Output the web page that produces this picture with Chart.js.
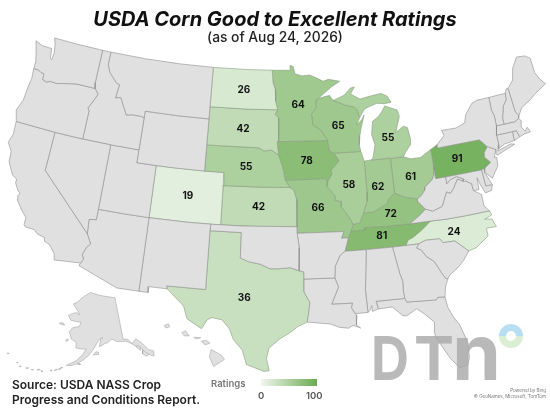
<!DOCTYPE html>
<html>
<head>
<meta charset="utf-8">
<script src="https://cdn.jsdelivr.net/npm/chart.js@4"></script>
<style>
  html, body { margin: 0; padding: 0; background: #fff; }
  #wrap { position: relative; width: 550px; height: 412px; overflow: hidden; font-family: Inter, sans-serif; }
  #map { position: absolute; left: 0; top: 0; }
  .t { position: absolute; white-space: nowrap; }
  #title { left: 0; width: 550px; top: 7px; text-align: center; font: italic 700 20px Inter, sans-serif; color: #111; }
  #subtitle { left: 0; width: 550px; top: 29px; text-align: center; font: 500 13.8px Inter, sans-serif; color: #222; }
  #source { left: 12px; top: 378px; font: 600 12px/14.5px Inter, sans-serif; color: #222; }
  #rtitle { left: 211px; top: 378px; font: 600 9.5px Inter, sans-serif; color: #777; }
  #bar { position: absolute; left: 261px; top: 379px; width: 56px; height: 7px; background: linear-gradient(to right, #f2f7ef, #6aaa50); }
  #r0 { left: 258px; top: 390px; font: 600 9.5px Inter, sans-serif; color: #555; }
  #r100 { left: 306px; top: 390px; font: 600 9.5px Inter, sans-serif; color: #555; }
  #logo { position: absolute; left: 0; top: 0; }
  #logo text { font-family: Inter, sans-serif; font-weight: 700; fill: rgba(170,170,170,.82); }
  #ring { position: absolute; left: 499px; top: 324px; width: 24px; height: 24px; border-radius: 50%; background: linear-gradient(#b8def3 50%, #d9eed2 50%); }
  #ring i { position: absolute; left: 7px; top: 7px; width: 10px; height: 10px; border-radius: 50%; background: #fff; }
  #bing { right: 4px; top: 388px; text-align: right; font: 400 4.5px/6px Inter, sans-serif; color: #777; }
</style>
</head>
<body>
<div id="wrap">
  <canvas id="map" width="550" height="412"></canvas>
  <div class="t" id="title">USDA Corn Good to Excellent Ratings</div>
  <div class="t" id="subtitle">(as of Aug 24, 2026)</div>
  <div class="t" id="source">Source: USDA NASS Crop<br>Progress and Conditions Report.</div>
  <div class="t" id="rtitle">Ratings</div>
  <div id="bar"></div>
  <div class="t" id="r0">0</div>
  <div class="t" id="r100">100</div>
  <svg id="logo" width="550" height="412">
    <text x="371" y="380" font-size="60" textLength="38" lengthAdjust="spacingAndGlyphs">D</text>
    <text x="414" y="380" font-size="60" textLength="40" lengthAdjust="spacingAndGlyphs">T</text>
    <text x="452" y="380" font-size="77" textLength="49" lengthAdjust="spacingAndGlyphs">n</text>
  </svg>
  <div id="ring"><i></i></div>
  <div class="t" id="bing">Powered by Bing<br>© GeoNames, Microsoft, TomTom</div>
</div>
<script>
// ratings
const ratedStates = ['ND', 'SD', 'NE', 'CO', 'KS', 'TX', 'MN', 'WI', 'MI', 'IA', 'IL', 'IN', 'OH', 'PA', 'MO', 'KY', 'TN', 'NC'];
const ratings = [26, 42, 55, 19, 42, 36, 64, 65, 55, 78, 58, 62, 61, 91, 66, 72, 81, 24];
const labelLon = [-100.4, -100.3, -99.8, -105.5, -98.4, -99.5, -94.3, -90, -84.8, -93.5, -89.3, -86.4, -83, -78, -92.5, -85.4, -86.5, -79.6];
const labelLat = [47.4, 44.4, 41.5, 39, 38.5, 31.5, 46.3, 44.6, 43.3, 42, 40, 39.7, 40.1, 40.9, 38.4, 37.5, 35.9, 35.5];

// state outlines, [lon, lat]
const WA = [[-124.73,48.38],[-123.9,48.16],[-123.1,48.15],[-122.75,48.15],[-122.6,47.4],[-122.4,47.3],[-122.35,47.9],[-122.5,48.5],[-122.76,49],[-120,49],[-117.03,49],[-117.04,46.42],[-116.92,45.99],[-118.98,46],[-119.6,45.92],[-121.2,45.65],[-121.9,45.68],[-122.3,45.55],[-122.75,45.65],[-122.8,46.1],[-123.2,46.15],[-123.5,46.27],[-124.05,46.27],[-124.07,46.7],[-124.1,46.9],[-124.4,47.7]];
const OR = [[-124.05,46.27],[-123.5,46.27],[-123.2,46.15],[-122.8,46.1],[-122.75,45.65],[-122.3,45.55],[-121.9,45.68],[-121.2,45.65],[-119.6,45.92],[-118.98,46],[-116.92,45.99],[-116.46,45.6],[-116.85,44.95],[-117.22,44.4],[-117.03,44.2],[-117.03,42],[-120,42],[-124.2,42],[-124.4,42.5],[-124.55,42.84],[-124.15,43.7],[-124.07,44.7],[-123.95,45.5]];
const CA = [[-124.2,42],[-120,42],[-120,39],[-114.63,35],[-114.14,34.3],[-114.45,34],[-114.72,33.4],[-114.52,33.03],[-114.72,32.72],[-117.12,32.53],[-117.28,33],[-117.9,33.6],[-118.4,33.75],[-118.5,34.03],[-119.2,34.15],[-119.6,34.42],[-120.47,34.45],[-120.65,34.6],[-120.65,35.15],[-121.3,35.7],[-121.9,36.3],[-121.95,36.6],[-121.8,36.85],[-122.05,36.95],[-122.5,37.5],[-122.5,37.8],[-123,38],[-123.7,38.9],[-123.8,39.7],[-124.35,40.3],[-124.1,41]];
const NV = [[-120,42],[-117.03,42],[-114.04,42],[-114.04,37],[-114.05,36.2],[-114.74,36.1],[-114.63,35],[-120,39]];
const ID = [[-117.03,49],[-116.05,49],[-116.05,48],[-115.7,47.45],[-114.75,46.75],[-114.35,46.65],[-114.5,45.6],[-113.95,45.7],[-113.45,45.05],[-113,44.45],[-112.3,44.55],[-111.5,44.55],[-111.05,44.48],[-111.05,42],[-114.04,42],[-117.03,42],[-117.03,44.2],[-117.22,44.4],[-116.85,44.95],[-116.46,45.6],[-116.92,45.99],[-117.04,46.42]];
const MT = [[-116.05,49],[-112,49],[-108,49],[-104.05,49],[-104.05,45],[-107.5,45],[-111.05,45],[-111.05,44.48],[-111.5,44.55],[-112.3,44.55],[-113,44.45],[-113.45,45.05],[-113.95,45.7],[-114.5,45.6],[-114.35,46.65],[-114.75,46.75],[-115.7,47.45],[-116.05,48]];
const WY = [[-111.05,45],[-107.5,45],[-104.05,45],[-104.05,41],[-107.5,41],[-111.05,41]];
const UT = [[-114.04,42],[-111.05,42],[-111.05,41],[-109.05,41],[-109.05,37],[-111.5,37],[-114.04,37]];
const CO = [[-109.05,41],[-104.05,41],[-102.05,41],[-102.05,37],[-105.5,37],[-109.05,37]];
const AZ = [[-114.04,37],[-111.5,37],[-109.05,37],[-109.05,31.33],[-111.07,31.33],[-114.82,32.5],[-114.72,32.72],[-114.52,33.03],[-114.72,33.4],[-114.45,34],[-114.14,34.3],[-114.63,35],[-114.74,36.1],[-114.05,36.2]];
const NM = [[-109.05,37],[-105.5,37],[-103,37],[-103.04,36.5],[-103.04,32],[-106.62,32],[-106.53,31.78],[-108.21,31.78],[-108.21,31.33],[-109.05,31.33]];
const TX = [[-103.04,36.5],[-100,36.5],[-100,34.56],[-99.2,34.3],[-98.1,34.13],[-97.2,33.8],[-96.5,33.8],[-95.3,33.88],[-94.48,33.64],[-94.04,33.55],[-94.04,33],[-94.04,31.99],[-93.55,31.2],[-93.7,30.3],[-93.84,29.7],[-94.7,29.35],[-95.2,29],[-96.3,28.4],[-97.2,27.7],[-97.4,26.9],[-97.15,25.96],[-97.6,25.9],[-99.1,26.4],[-99.5,27.5],[-100.3,28.28],[-100.7,29.1],[-101.4,29.77],[-102.3,29.88],[-102.7,29.7],[-103.15,28.98],[-104.5,29.65],[-104.9,30.6],[-106.53,31.78],[-106.62,32],[-103.04,32]];
const OK = [[-103,37],[-100,37],[-94.62,37],[-94.62,36.5],[-94.43,35.4],[-94.48,33.64],[-95.3,33.88],[-96.5,33.8],[-97.2,33.8],[-98.1,34.13],[-99.2,34.3],[-100,34.56],[-100,36.5],[-103.04,36.5]];
const KS = [[-102.05,40],[-98,40],[-95.3,40],[-94.9,39.8],[-94.62,39.1],[-94.62,37],[-98,37],[-102.05,37]];
const NE = [[-104.05,43],[-98.5,43],[-98,42.77],[-97.2,42.85],[-96.45,42.49],[-96.1,41.7],[-95.9,41.2],[-95.77,40.58],[-95.3,40],[-98,40],[-102.05,40],[-102.05,41],[-104.05,41]];
const SD = [[-104.05,45.94],[-100,45.94],[-96.56,45.94],[-96.85,45.6],[-96.45,45.3],[-96.45,43.5],[-96.6,43.5],[-96.45,42.49],[-97.2,42.85],[-98,42.77],[-98.5,43],[-104.05,43],[-104.05,45]];
const ND = [[-104.05,49],[-100,49],[-97.23,49],[-97.1,48],[-96.85,47.5],[-96.8,46.6],[-96.56,45.94],[-100,45.94],[-104.05,45.94]];
const MN = [[-97.23,49],[-95.15,49],[-95.15,49.38],[-94.8,49.3],[-94.6,48.72],[-93.8,48.55],[-92.9,48.6],[-92,48.3],[-91.4,48.07],[-90.8,48.2],[-89.5,48],[-90.5,47.6],[-92.05,46.75],[-92.3,46.66],[-92.3,46.1],[-92.85,45.6],[-92.75,44.75],[-91.9,44.3],[-91.22,43.5],[-96.45,43.5],[-96.45,45.3],[-96.85,45.6],[-96.56,45.94],[-96.8,46.6],[-96.85,47.5],[-97.1,48]];
const WI = [[-92.05,46.75],[-91.2,46.9],[-90.75,46.95],[-90.4,46.55],[-89.1,46.14],[-88.1,45.92],[-87.8,45.7],[-87.6,45.1],[-88,44.55],[-87.4,44.9],[-87.1,45.25],[-87.55,44.3],[-87.75,43.7],[-87.9,43],[-87.8,42.49],[-90.64,42.51],[-91.1,42.7],[-91.22,43.5],[-91.9,44.3],[-92.75,44.75],[-92.85,45.6],[-92.3,46.1],[-92.3,46.66]];
const IA = [[-96.45,43.5],[-91.22,43.5],[-91.1,42.7],[-90.64,42.51],[-90.15,41.9],[-91.05,41.2],[-90.95,40.95],[-91.42,40.38],[-91.73,40.61],[-94,40.58],[-95.77,40.58],[-95.9,41.2],[-96.1,41.7],[-96.45,42.49],[-96.6,43.5]];
const MO = [[-95.77,40.58],[-94,40.58],[-91.73,40.61],[-91.42,40.38],[-91.5,40],[-90.75,39.25],[-90.7,38.9],[-90.15,38.8],[-90.2,38.4],[-89.5,37.6],[-89.15,37],[-89.4,36.5],[-89.7,36],[-90.37,36],[-90.1,36.5],[-94.62,36.5],[-94.62,37],[-94.62,39.1],[-94.9,39.8],[-95.3,40]];
const AR = [[-94.62,36.5],[-90.1,36.5],[-90.37,36],[-89.7,36],[-90.1,35],[-90.6,34.7],[-91.1,33.9],[-91.2,33],[-94.04,33],[-94.04,33.55],[-94.48,33.64],[-94.43,35.4]];
const LA = [[-94.04,33],[-91.2,33],[-90.9,32.3],[-91.6,31],[-89.73,31],[-89.85,30.65],[-89.55,30.18],[-89.4,30.05],[-89.5,29.3],[-89.15,29.05],[-89.8,29.3],[-90.2,29.1],[-91,29.2],[-91.8,29.5],[-92.3,29.55],[-93.84,29.7],[-93.7,30.3],[-93.55,31.2],[-94.04,31.99]];
const MS = [[-90.1,35],[-88.2,35],[-88.1,34.9],[-88.47,31.9],[-88.4,30.2],[-89.55,30.18],[-89.85,30.65],[-89.73,31],[-91.6,31],[-90.9,32.3],[-91.2,33],[-91.1,33.9],[-90.6,34.7]];
const AL = [[-88.2,35],[-85.6,35],[-85.18,32.87],[-85,32.3],[-85.05,31.55],[-85,31],[-87.6,31],[-87.45,30.4],[-88,30.25],[-88,30.7],[-88.2,30.35],[-88.4,30.2],[-88.47,31.9],[-88.1,34.9]];
const GA = [[-85.6,35],[-84.32,35],[-83.1,35],[-83.35,34.7],[-82.9,34.47],[-82.55,33.95],[-81.9,33.5],[-81.4,32.6],[-81.1,32.1],[-80.88,32.03],[-81.2,31.5],[-81.4,30.7],[-82.05,30.75],[-82.2,30.57],[-84.85,30.7],[-85,31],[-85.05,31.55],[-85,32.3],[-85.18,32.87]];
const FL = [[-87.6,31],[-85,31],[-84.85,30.7],[-82.2,30.57],[-82.05,30.75],[-81.4,30.7],[-81.3,29.9],[-80.9,29],[-80.5,28.4],[-80.05,26.9],[-80.15,25.75],[-80.4,25.2],[-81.1,25.13],[-81.75,25.95],[-82.15,26.7],[-82.7,27.7],[-82.8,28.2],[-82.65,28.9],[-83.4,29.6],[-84.05,30.1],[-85,29.65],[-85.35,29.7],[-86.2,30.45],[-87.45,30.4]];
const SC = [[-83.1,35],[-82.4,35.2],[-81.05,35.15],[-80.8,34.82],[-79.68,34.8],[-78.55,33.86],[-79.2,33.2],[-79.9,32.7],[-80.65,32.3],[-80.88,32.03],[-81.1,32.1],[-81.4,32.6],[-81.9,33.5],[-82.55,33.95],[-82.9,34.47],[-83.35,34.7]];
const NC = [[-81.68,36.59],[-80,36.54],[-78,36.54],[-75.87,36.55],[-75.75,36.2],[-76.5,36],[-75.8,35.9],[-75.55,35.27],[-76.5,35.3],[-76.5,34.7],[-77.8,34],[-78.55,33.86],[-79.68,34.8],[-80.8,34.82],[-81.05,35.15],[-82.4,35.2],[-83.1,35],[-84.32,35],[-84.05,35.4],[-83.5,35.57],[-82.6,36.03]];
const TN = [[-90.1,35],[-89.7,36],[-89.4,36.5],[-88.07,36.5],[-88.07,36.68],[-86,36.63],[-83.68,36.6],[-81.68,36.59],[-82.6,36.03],[-83.5,35.57],[-84.05,35.4],[-84.32,35],[-85.6,35],[-88.2,35]];
const KY = [[-89.4,36.5],[-89.15,37],[-88.5,37.07],[-88.05,37.8],[-87.1,37.8],[-86.3,38.1],[-85.7,38.3],[-85.4,38.7],[-84.8,39.1],[-84.3,38.85],[-83.7,38.63],[-82.6,38.42],[-82.6,38.2],[-81.97,37.54],[-82.7,37.1],[-83.68,36.6],[-86,36.63],[-88.07,36.68],[-88.07,36.5]];
const IL = [[-90.64,42.51],[-87.8,42.49],[-87.53,41.72],[-87.53,39.35],[-87.6,38.7],[-88.05,37.8],[-88.5,37.07],[-89.15,37],[-89.5,37.6],[-90.2,38.4],[-90.15,38.8],[-90.7,38.9],[-90.75,39.25],[-91.5,40],[-91.42,40.38],[-90.95,40.95],[-91.05,41.2],[-90.15,41.9]];
const IN = [[-87.53,41.72],[-87.2,41.76],[-86.82,41.76],[-84.8,41.76],[-84.8,39.1],[-85.4,38.7],[-85.7,38.3],[-86.3,38.1],[-87.1,37.8],[-88.05,37.8],[-87.6,38.7],[-87.53,39.35]];
const OH = [[-84.8,41.7],[-83.45,41.73],[-82.7,41.5],[-81.7,41.5],[-80.52,41.98],[-80.52,40.64],[-80.65,40],[-80.85,39.7],[-81.7,39.2],[-81.75,39],[-82.2,38.6],[-82.6,38.42],[-83.7,38.63],[-84.3,38.85],[-84.8,39.1]];
const MI = [[-86.82,41.76],[-84.8,41.76],[-83.45,41.73],[-83.15,42.05],[-82.5,42.6],[-82.45,43],[-82.6,43.9],[-83,44.05],[-83.9,43.65],[-83.3,44.85],[-83.45,45.35],[-84.75,45.78],[-85.1,45.4],[-85.6,45],[-86.25,44.7],[-86.5,43.7],[-86.25,42.9],[-86.6,41.9]];
const MI_UP = [[-90.4,46.55],[-89.1,46.9],[-88.4,47.4],[-87.9,47.47],[-88.4,46.95],[-87.4,46.5],[-86.1,46.67],[-85,46.77],[-84.35,46.5],[-84,46],[-84.75,45.95],[-85.55,46.05],[-86.5,45.85],[-87,45.7],[-87.6,45.1],[-87.8,45.7],[-88.1,45.92],[-89.1,46.14]];
const PA = [[-80.52,41.98],[-79.76,42.27],[-79.76,42],[-75.35,42],[-74.7,41.36],[-75.13,40.98],[-75.2,40.6],[-74.72,40.15],[-75.42,39.8],[-75.79,39.72],[-78,39.72],[-80.52,39.72],[-80.52,40.64]];
const NY = [[-79.76,42.27],[-78.9,42.85],[-79.05,43.27],[-77.5,43.25],[-76.5,43.5],[-76.2,44.1],[-75.3,44.85],[-74.7,45],[-73.35,45],[-73.4,44],[-73.25,43.55],[-73.28,42.75],[-73.5,42.05],[-73.5,41.3],[-73.65,41],[-73.75,40.85],[-72.3,41.15],[-71.9,41.05],[-73.9,40.55],[-74,40.7],[-73.9,41],[-74.7,41.36],[-75.35,42],[-79.76,42]];
const VT = [[-73.35,45],[-71.5,45],[-71.6,44.5],[-72.05,44.1],[-72.45,43.2],[-72.46,42.73],[-73.28,42.75],[-73.25,43.55],[-73.4,44]];
const NH = [[-71.5,45],[-71.3,45.3],[-71.08,45.3],[-70.98,43.4],[-70.7,43.07],[-70.82,42.87],[-71.3,42.7],[-72.46,42.73],[-72.45,43.2],[-72.05,44.1],[-71.6,44.5]];
const ME = [[-71.08,45.3],[-70.4,45.8],[-70,46.7],[-69.23,47.46],[-68.3,47.36],[-67.79,47.07],[-67.78,45.9],[-67.45,45.3],[-67,44.85],[-68.5,44.3],[-69.1,44],[-70.2,43.6],[-70.7,43.07],[-70.98,43.4]];
const MA = [[-73.5,42.05],[-71.8,42.02],[-71.38,42.02],[-71.2,41.5],[-70.7,41.6],[-70,41.65],[-70.05,41.8],[-70.2,42.05],[-70.5,41.8],[-70.8,42.2],[-70.62,42.65],[-70.82,42.87],[-71.3,42.7],[-72.46,42.73],[-73.28,42.75]];
const CT = [[-73.5,42.05],[-71.8,42.02],[-71.85,41.32],[-72.9,41.25],[-73.65,41],[-73.5,41.3]];
const RI = [[-71.8,42.02],[-71.38,42.02],[-71.2,41.5],[-71.85,41.32]];
const NJ = [[-74.7,41.36],[-73.9,41],[-74.25,40.45],[-74,40.4],[-74.1,39.75],[-74.9,38.93],[-75.55,39.5],[-75.42,39.8],[-74.72,40.15],[-75.2,40.6],[-75.13,40.98]];
const DE = [[-75.79,39.72],[-75.42,39.8],[-75.55,39.5],[-75.05,38.45],[-75.7,38.46]];
const MD = [[-79.48,39.72],[-75.79,39.72],[-75.7,38.46],[-75.05,38.45],[-75.25,38.03],[-75.9,37.95],[-76.2,38.6],[-76.4,39.2],[-76.45,38.3],[-77,38.3],[-77.05,38.85],[-77.5,39.1],[-77.75,39.33],[-78.4,39.6],[-79.05,39.47],[-79.48,39.2]];
const VA = [[-83.68,36.6],[-81.68,36.59],[-80,36.54],[-78,36.54],[-75.87,36.55],[-76.3,37],[-76.3,37.9],[-77,38.3],[-77.05,38.85],[-77.5,39.1],[-77.83,39.14],[-78.35,39.4],[-78.9,38.75],[-79.3,38.42],[-79.65,38.58],[-80.3,37.55],[-81.3,37.3],[-81.97,37.54],[-82.7,37.1]];
const WV = [[-80.52,40.64],[-80.52,39.72],[-79.48,39.72],[-79.48,39.2],[-79.05,39.47],[-78.4,39.6],[-77.75,39.33],[-77.83,39.14],[-78.35,39.4],[-78.9,38.75],[-79.3,38.42],[-79.65,38.58],[-80.3,37.55],[-81.3,37.3],[-81.97,37.54],[-82.6,38.2],[-82.6,38.42],[-82.2,38.6],[-81.75,39],[-81.7,39.2],[-80.85,39.7],[-80.65,40]];

// alaska and hawaii insets
const AK = [[-141,69.65],[-141,60.3],[-139,60],[-137.5,58.9],[-135.5,59.7],[-133.5,58.4],[-131.8,56.6],[-130,55.9],[-130.5,54.8],[-131.8,55.3],[-133.5,56.5],[-135,58],[-136.5,58.2],[-138,59],[-140,59.7],[-144,60],[-146,60.7],[-148,60],[-149.5,59.8],[-151.8,59.2],[-151.2,60.8],[-150,61.2],[-151.5,61],[-153.5,59.5],[-154.2,58.8],[-156.5,57.2],[-158.5,56.2],[-161,55.2],[-163,54.7],[-164.8,54.6],[-163.2,55.2],[-161,56],[-158.7,57.5],[-157.5,58.7],[-159,58.6],[-162,58.7],[-162,59.9],[-164.5,60.5],[-165.3,61.5],[-166,62],[-164.8,63],[-161.5,63.5],[-161,64.5],[-163,64.5],[-166.3,64.6],[-168.1,65.6],[-164.3,66.5],[-162,66.1],[-163.7,67],[-166.5,68.3],[-164,68.9],[-163,69.5],[-160,70.5],[-156.6,71.3],[-152,70.8],[-148,70.4],[-144,70]];
const akIslands = [
  [[-154.5,57.4],[-152.5,57.5],[-152.3,58],[-153.4,58.1]],
  [[-136.4,58],[-135,57],[-134.6,57.5],[-135,58.3]],
  [[-134.5,56.1],[-133.5,55.4],[-133,55.3],[-132.2,55.6],[-133,56.6],[-134,57]],
  [[-171.7,63.4],[-170,63.7],[-168.8,63.3],[-170.3,63.2]],
  [[-167,60],[-166,60.4],[-165.7,60.2],[-166.3,59.8]],
  [[-160.7,55.2],[-160,55.4],[-159.6,55.1]],
  [[-167.5,53.4],[-166.8,53.5],[-166,54],[-166.7,53.9]],
  [[-168.8,52.9],[-168,53.2],[-167.9,53.4],[-168.6,53.2]],
  [[-170.3,52.7],[-169.8,52.95],[-169.9,52.7]],
  [[-173.6,52.1],[-172.9,52.2],[-173,52]],
  [[-175,52.1],[-174,52.4],[-174.2,52.1]],
  [[-177,51.7],[-176.2,51.9],[-176.6,51.6]],
  [[-179,51.6],[-178,51.9],[-178.4,51.6]],
  [[-181.4,51.4],[-180.7,51.65],[-180.9,51.4]],
  [[-182.8,51.9],[-182.3,52.15],[-182.4,51.9]],
  [[-187.3,52.9],[-186.6,53],[-187,52.8]]
];
const hiIslands = [
  [[-155.9,20.25],[-155.1,19.85],[-154.8,19.5],[-155.7,18.95],[-156.05,19.7]],
  [[-156.7,20.9],[-156.3,20.95],[-156,20.75],[-156.4,20.6]],
  [[-157.3,21.2],[-156.75,21.15],[-157.2,21.08]],
  [[-158.3,21.55],[-158,21.7],[-157.7,21.3],[-158.1,21.3]],
  [[-159.75,22.1],[-159.4,22.23],[-159.3,22],[-159.6,21.9]]
];

const grayStates = { WA, OR, CA, NV, ID, MT, WY, UT, AZ, NM, OK, AR, LA, MS, AL, GA, FL, SC, NY, VT, NH, ME, MA, CT, RI, NJ, DE, MD, VA, WV };
const coloredShapes = { ND, SD, NE, CO, KS, TX, MN, WI, MI, IA, IL, IN, OH, PA, MO, KY, TN, NC };

// conic equal-area projection into the map's x/y units
function conic(lat1, lat2, lon0, lat0, k, x0, y0) {
  const rad = Math.PI / 180;
  const n = (Math.sin(lat1 * rad) + Math.sin(lat2 * rad)) / 2;
  const c = Math.cos(lat1 * rad) ** 2 + 2 * n * Math.sin(lat1 * rad);
  const rho = lat => Math.sqrt(c - 2 * n * Math.sin(lat * rad)) / n;
  const rho0 = rho(lat0);
  return ([lon, lat]) => {
    const th = n * (lon - lon0) * rad, r = rho(lat);
    return { x: x0 + k * r * Math.sin(th), y: y0 - k * (rho0 - r * Math.cos(th)) };
  };
}
const lower48 = conic(29.5, 45.5, -96, 37.5, 745, 282.8, 220.3);
const alaska = conic(55, 65, -154, 50, 258, 94.4, 388.2);
const hawaii = ([lon, lat]) => ({ x: 216 + 12.2 * (lon + 155.5), y: 358 - 13 * (lat - 19.6) });

function shade(v) {
  const t = v / 100;
  return `rgb(${Math.round(255 - 149 * t)},${Math.round(255 - 85 * t)},${Math.round(255 - 175 * t)})`;
}

function shape(coords, project, fillColor, lineColor) {
  const pts = coords.concat([coords[0]]).map(project);
  return { data: pts, showLine: true, fill: 'shape', backgroundColor: fillColor, borderColor: lineColor, borderWidth: 0.6, pointRadius: 0, tension: 0, clip: false };
}

const GRAY = '#e0e0e0', LINE = '#8e8e8e', GREEN_LINE = '#8a9c82', INSET_LINE = '#a8a8a8';
const datasets = [];
Object.values(grayStates).forEach(s => datasets.push(shape(s, lower48, GRAY, LINE)));
datasets.push(shape(MI_UP, lower48, shade(ratings[ratedStates.indexOf('MI')]), GREEN_LINE));
Object.keys(coloredShapes).forEach(k => datasets.push(shape(coloredShapes[k], lower48, shade(ratings[ratedStates.indexOf(k)]), GREEN_LINE)));
datasets.push(shape(AK, alaska, GRAY, INSET_LINE));
akIslands.forEach(s => datasets.push(shape(s, alaska, GRAY, INSET_LINE)));
hiIslands.forEach(s => datasets.push(shape(s, hawaii, GRAY, INSET_LINE)));

// rating numbers on top of the states
const ratingLabels = {
  id: 'ratingLabels',
  afterDatasetsDraw(chart) {
    const { ctx, scales } = chart;
    ctx.save();
    ctx.font = '700 10px Inter, sans-serif';
    ctx.fillStyle = '#111';
    ctx.textAlign = 'center';
    ctx.textBaseline = 'middle';
    ratings.forEach((v, i) => {
      const p = lower48([labelLon[i], labelLat[i]]);
      ctx.fillText(String(v), scales.x.getPixelForValue(p.x), scales.y.getPixelForValue(p.y));
    });
    ctx.restore();
  }
};

new Chart(document.getElementById('map').getContext('2d'), {
  type: 'scatter',
  data: { datasets },
  options: {
    responsive: false,
    animation: false,
    layout: { padding: 0 },
    plugins: { legend: { display: false }, tooltip: { enabled: false }, title: { display: false } },
    scales: {
      x: { type: 'linear', min: 0, max: 550, display: false },
      y: { type: 'linear', min: 0, max: 412, reverse: true, display: false }
    }
  },
  plugins: [ratingLabels]
});
</script>
</body>
</html>
